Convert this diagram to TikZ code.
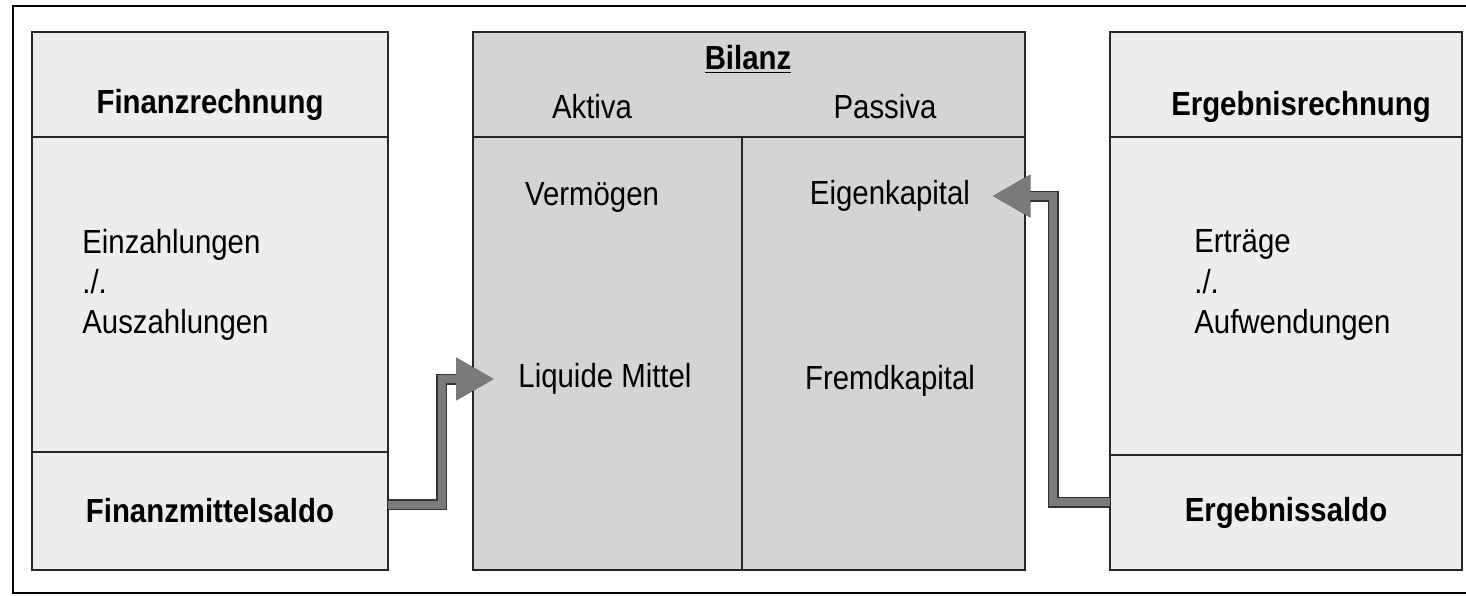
\documentclass[tikz,border=0pt]{standalone}
\usepackage{fontspec}
\setmainfont{Liberation Sans}[FakeStretch=0.88]
\usetikzlibrary{arrows.meta}
\tikzset{
  pane/.style={draw=black!85, line width=0.9pt, fill=black!7, anchor=north west, inner sep=0pt, outer sep=0pt},
  bilpane/.style={pane, fill=black!17},
  title/.style={font=\fontsize{19}{22}\selectfont\bfseries},
  entry/.style={font=\fontsize{19}{22}\selectfont},
  lines/.style={entry, align=left, anchor=west, inner sep=0pt, font=\fontsize{19}{22.8}\selectfont},
  flow/.style={draw=black!52, line width=0.16cm, line join=miter,
    preaction={draw=black!80, line width=0.22cm},
    -{Triangle[width=0.8cm,length=0.76cm]}}
}
\begin{document}
\begin{tikzpicture}[x=0.02cm, y=-0.02cm]
\useasboundingbox (0,0) rectangle (1466,595);
% outer frame
\draw[line width=0.8pt] (1466,6)--(13,6)--(13,593)--(1466,593);
% Finanzrechnung
\node[pane, minimum width=7.12cm, minimum height=2.1cm] (fhead) at (32,32) {};
\node[pane, minimum width=7.12cm, minimum height=6.3cm] (fbody) at (32,137) {};
\node[pane, minimum width=7.12cm, minimum height=2.36cm, title] (fsaldo) at (32,452) {Finanzmittelsaldo};
\node[title] (ftitle) at (210,105) {Finanzrechnung};
\node[lines] (fposten) at (82,285) {Einzahlungen\\./.\\Auszahlungen};
% Bilanz
\node[bilpane, minimum width=11.04cm, minimum height=2.1cm] (bhead) at (473,32) {};
\node[bilpane, minimum width=5.38cm, minimum height=8.66cm] (aktiv) at (473,137) {};
\node[bilpane, minimum width=5.66cm, minimum height=8.66cm] (passiv) at (742,137) {};
\node[title] (btitle) at (748,59) {\underline{Bilanz}};
\node[entry] (aktiva) at (592,107) {Aktiva};
\node[entry] (passiva) at (885,107) {Passiva};
\node[entry] (verm) at (592,197) {Verm\"ogen};
\node[entry, inner xsep=0.48cm] (lm) at (605,379) {Liquide Mittel};
\node[entry, inner xsep=0.44cm] (ek) at (890,196) {Eigenkapital};
\node[entry] (fk) at (890,381) {Fremdkapital};
% Ergebnisrechnung
\node[pane, minimum width=7.04cm, minimum height=2.1cm] (ehead) at (1110,32) {};
\node[pane, minimum width=7.04cm, minimum height=6.36cm] (ebody) at (1110,137) {};
\node[pane, minimum width=7.04cm, minimum height=2.3cm, title] (esaldo) at (1110,455) {Ergebnissaldo};
\node[title] (etitle) at (1301,107) {Ergebnisrechnung};
\node[lines] (eposten) at (1194,285) {Ertr\"age\\./.\\Aufwendungen};
% Saldenfluss
\draw[flow] ([yshift=0.12cm]fsaldo.east) -- ++(54,0) |- (lm.west);
\draw[flow] ([yshift=0.2cm]esaldo.west) -- ++(-57,0) |- (ek.east);
\end{tikzpicture}
\end{document}
